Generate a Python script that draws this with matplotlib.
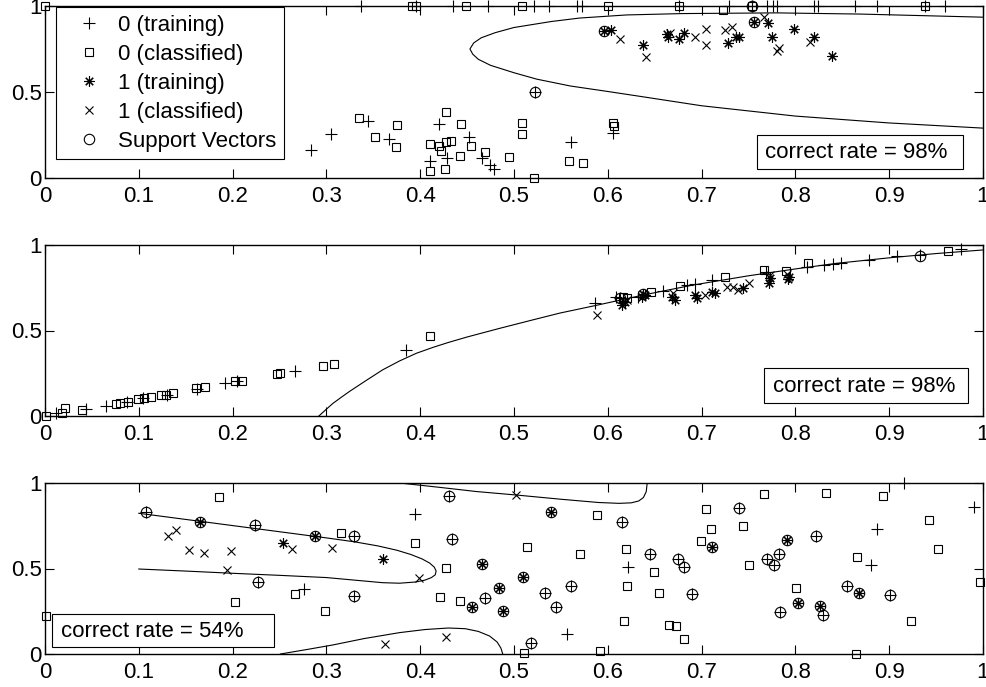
import matplotlib
matplotlib.use("Agg")
import matplotlib.pyplot as plt
from matplotlib.patches import Rectangle
from matplotlib.lines import Line2D

plt.rcParams['font.family'] = ['Liberation Sans', 'DejaVu Sans']

# ---------------- Panel 1 data ----------------
p1_train0_x = [0.337, 0.395, 0.435, 0.472, 0.521, 0.537, 0.567, 0.572, 0.676, 0.729, 0.754, 0.770, 0.776, 0.780,
               0.820, 0.824, 0.864, 0.887, 0.938, 0.960,
               0.284, 0.305, 0.344, 0.367, 0.420, 0.410, 0.429, 0.452, 0.466, 0.474, 0.479, 0.561, 0.606, 0.522]
p1_train0_y = [1.0] * 20 + [0.163, 0.254, 0.331, 0.227, 0.314, 0.099, 0.114, 0.237, 0.114, 0.076, 0.050, 0.207,
                            0.263, 0.502]
p1_class0_x = [0.0, 0.391, 0.396, 0.449, 0.508, 0.600, 0.676, 0.754, 0.938, 0.723,
               0.335, 0.352, 0.375, 0.374, 0.427, 0.443, 0.410, 0.420, 0.422, 0.428, 0.433, 0.454, 0.442, 0.469,
               0.495, 0.410, 0.426, 0.521, 0.509, 0.508, 0.559, 0.574, 0.606, 0.607]
p1_class0_y = [1.0] * 9 + [0.977,
                           0.351, 0.237, 0.308, 0.178, 0.386, 0.314, 0.196, 0.186, 0.157, 0.207, 0.217, 0.186, 0.126,
                           0.153, 0.120, 0.041, 0.052, 0.002, 0.322, 0.256, 0.101, 0.085, 0.322, 0.302]
p1_train1_x = [0.596, 0.603, 0.638, 0.663, 0.664, 0.676, 0.681, 0.728, 0.737, 0.740, 0.756, 0.771, 0.775, 0.798,
               0.820, 0.839]
p1_train1_y = [0.855, 0.860, 0.773, 0.835, 0.822, 0.808, 0.841, 0.783, 0.818, 0.822, 0.907, 0.903, 0.818, 0.864,
               0.818, 0.711]
p1_class1_x = [0.613, 0.641, 0.666, 0.693, 0.705, 0.705, 0.725, 0.732, 0.766, 0.780, 0.783, 0.816]
p1_class1_y = [0.808, 0.702, 0.841, 0.822, 0.868, 0.773, 0.860, 0.880, 0.934, 0.740, 0.754, 0.789]
p1_sv_x = [0.522, 0.596, 0.754, 0.756]
p1_sv_y = [0.502, 0.855, 1.0, 0.907]
p1_bound_x = [1.0, 0.87, 0.78, 0.68, 0.62, 0.57, 0.54, 0.50, 0.48, 0.465, 0.457, 0.453, 0.456, 0.462, 0.475,
              0.50, 0.524, 0.56, 0.60, 0.634, 0.70, 0.80, 0.90, 1.0]
p1_bound_y = [0.935, 0.953, 0.960, 0.956, 0.948, 0.930, 0.910, 0.875, 0.845, 0.815, 0.785, 0.750, 0.72, 0.69,
              0.655, 0.612, 0.575, 0.535, 0.503, 0.475, 0.42, 0.36, 0.32, 0.29]

# ---------------- Panel 2 data ----------------
p2_train0_x = [0.012, 0.044, 0.065, 0.087, 0.104, 0.130, 0.162, 0.192, 0.205, 0.267, 0.385, 0.586, 0.609, 0.613,
               0.632, 0.659, 0.684, 0.693, 0.711, 0.769, 0.812, 0.830, 0.840, 0.849, 0.878, 0.908, 0.933, 0.977]
p2_train0_y = [0.016, 0.041, 0.060, 0.084, 0.103, 0.124, 0.156, 0.191, 0.205, 0.265, 0.386, 0.659, 0.698, 0.692,
               0.698, 0.733, 0.766, 0.770, 0.795, 0.844, 0.873, 0.885, 0.889, 0.895, 0.914, 0.934, 0.940, 0.978]
p2_class0_x = [0.001, 0.018, 0.021, 0.039, 0.076, 0.080, 0.088, 0.099, 0.106, 0.113, 0.124, 0.129, 0.136, 0.161,
               0.171, 0.203, 0.210, 0.247, 0.251, 0.296, 0.308, 0.410, 0.616, 0.620, 0.646, 0.677, 0.725, 0.766,
               0.790, 0.813, 0.963]
p2_class0_y = [0.0, 0.016, 0.045, 0.035, 0.070, 0.074, 0.084, 0.098, 0.103, 0.109, 0.123, 0.125, 0.133, 0.162,
               0.171, 0.205, 0.206, 0.246, 0.250, 0.294, 0.304, 0.468, 0.694, 0.688, 0.727, 0.760, 0.811, 0.854,
               0.848, 0.897, 0.967]
p2_train1_x = [0.615, 0.618, 0.636, 0.638, 0.640, 0.668, 0.672, 0.693, 0.695, 0.711, 0.714, 0.744, 0.772, 0.773,
               0.792, 0.793]
p2_train1_y = [0.649, 0.665, 0.698, 0.715, 0.708, 0.698, 0.678, 0.708, 0.688, 0.727, 0.722, 0.747, 0.776, 0.805,
               0.799, 0.815]
p2_class1_x = [0.589, 0.620, 0.670, 0.704, 0.727, 0.733, 0.739, 0.750, 0.773, 0.791]
p2_class1_y = [0.591, 0.678, 0.717, 0.708, 0.753, 0.756, 0.737, 0.776, 0.825, 0.830]
p2_sv_x = [0.613, 0.638, 0.933]
p2_sv_y = [0.692, 0.715, 0.938]
p2_bound_x = [0.292, 0.296, 0.300, 0.307, 0.316, 0.325, 0.343, 0.36, 0.378, 0.396, 0.414, 0.43, 0.45, 0.485,
              0.52, 0.549, 0.586, 0.64, 0.691, 0.75, 0.80, 0.844, 0.90, 0.95, 1.0]
p2_bound_y = [0.0, 0.02, 0.04, 0.074, 0.11, 0.145, 0.21, 0.27, 0.322, 0.367, 0.402, 0.43, 0.462, 0.513,
              0.562, 0.602, 0.645, 0.71, 0.766, 0.82, 0.86, 0.893, 0.925, 0.95, 0.971]

# ---------------- Panel 3 data ----------------
p3_sv_plus_x = [0.108, 0.224, 0.329, 0.227, 0.329, 0.431, 0.434, 0.469, 0.533, 0.545, 0.561, 0.518, 0.615, 0.645,
                0.675, 0.681, 0.690, 0.740, 0.770, 0.777, 0.782, 0.784, 0.822, 0.829, 0.855, 0.901]
p3_sv_plus_y = [0.832, 0.754, 0.692, 0.423, 0.339, 0.924, 0.672, 0.329, 0.355, 0.277, 0.400, 0.062, 0.770, 0.585,
                0.554, 0.507, 0.353, 0.856, 0.556, 0.519, 0.585, 0.244, 0.690, 0.228, 0.398, 0.345]
p3_plus_x = [0.276, 0.394, 0.557, 0.622, 0.881, 0.887, 0.916, 0.990]
p3_plus_y = [0.380, 0.819, 0.117, 0.511, 0.520, 0.729, 1.0, 0.858]
p3_sv_star_x = [0.165, 0.288, 0.455, 0.466, 0.484, 0.488, 0.510, 0.539, 0.711, 0.791, 0.803, 0.826, 0.868]
p3_sv_star_y = [0.774, 0.692, 0.277, 0.526, 0.384, 0.251, 0.448, 0.828, 0.628, 0.667, 0.296, 0.281, 0.359]
p3_star_x = [0.254, 0.360]
p3_star_y = [0.647, 0.554]
p3_class0_x = [0.001, 0.185, 0.203, 0.267, 0.299, 0.316, 0.394, 0.428, 0.421, 0.442, 0.514, 0.511, 0.570, 0.588,
               0.592, 0.619, 0.620, 0.617, 0.649, 0.655, 0.665, 0.673, 0.681, 0.699, 0.710, 0.705, 0.744, 0.767,
               0.750, 0.801, 0.833, 0.866, 0.865, 0.893, 0.923, 0.942, 0.952, 0.997]
p3_class0_y = [0.224, 0.920, 0.302, 0.349, 0.253, 0.706, 0.647, 0.501, 0.335, 0.310, 0.624, 0.008, 0.585, 0.811,
               0.019, 0.614, 0.398, 0.195, 0.478, 0.355, 0.171, 0.164, 0.088, 0.661, 0.731, 0.848, 0.749, 0.936,
               0.522, 0.386, 0.943, 0.565, 0.0, 0.924, 0.193, 0.784, 0.612, 0.419]
p3_class1_x = [0.131, 0.140, 0.154, 0.169, 0.198, 0.194, 0.263, 0.306, 0.399, 0.362, 0.427, 0.502]
p3_class1_y = [0.690, 0.725, 0.608, 0.592, 0.602, 0.491, 0.614, 0.618, 0.443, 0.058, 0.101, 0.930]
p3_boundA_x = [0.1, 0.15, 0.2, 0.25, 0.3, 0.33, 0.355, 0.375, 0.39, 0.402, 0.41, 0.415, 0.417, 0.416, 0.412,
               0.405, 0.395, 0.378, 0.36, 0.33, 0.3, 0.25, 0.2, 0.15, 0.1]
p3_boundA_y = [0.823, 0.787, 0.751, 0.715, 0.679, 0.656, 0.632, 0.607, 0.582, 0.556, 0.532, 0.508, 0.485, 0.463,
               0.447, 0.432, 0.421, 0.414, 0.417, 0.432, 0.447, 0.460, 0.472, 0.485, 0.497]
p3_boundB_x = [0.378, 0.42, 0.46, 0.502, 0.55, 0.59, 0.612, 0.625, 0.633, 0.638, 0.641, 0.642]
p3_boundB_y = [1.0, 0.975, 0.95, 0.93, 0.905, 0.886, 0.881, 0.884, 0.895, 0.915, 0.95, 1.0]
p3_boundC_x = [0.251, 0.28, 0.307, 0.34, 0.378, 0.405, 0.43, 0.448, 0.462, 0.474, 0.482, 0.486, 0.488]
p3_boundC_y = [0.0, 0.027, 0.053, 0.09, 0.125, 0.143, 0.152, 0.148, 0.132, 0.105, 0.07, 0.035, 0.0]

xticks = [0, 0.1, 0.2, 0.3, 0.4, 0.5, 0.6, 0.7, 0.8, 0.9, 1]
xtick_labels = ['0', '0.1', '0.2', '0.3', '0.4', '0.5', '0.6', '0.7', '0.8', '0.9', '1']
yticks = [0, 0.5, 1]
ytick_labels = ['0', '0.5', '1']
legend_labels = ['0 (training)', '0 (classified)', '1 (training)', '1 (classified)', 'Support Vectors']
rate_texts = ['correct rate = 98%', 'correct rate = 98%', 'correct rate = 54%']

FS = 16
STAR = (8, 2, 0)
sty = dict(color='black', linestyle='none', clip_on=False, markeredgewidth=0.8)
m_plus = dict(marker='+', markersize=8, **sty)
m_sq = dict(marker='s', markersize=6, markerfacecolor='none', **sty)
m_star = dict(marker=STAR, markersize=7.5, **sty)
m_x = dict(marker='x', markersize=5.5, **sty)
m_o = dict(marker='o', markersize=7.5, markerfacecolor='none', **sty)

fig = plt.figure(figsize=(9.87, 6.87), dpi=100)
left, width = 45 / 987, (983 - 45) / 987
rects = [(left, 1 - 178 / 687, width, 172 / 687),
         (left, 1 - 416 / 687, width, 171 / 687),
         (left, 1 - 654 / 687, width, 171 / 687)]
axes = [fig.add_axes(r) for r in rects]

def style(ax):
    ax.set_xlim(0, 1)
    ax.set_ylim(0, 1)
    ax.set_xticks(xticks)
    ax.set_xticklabels(xtick_labels)
    ax.set_yticks(yticks)
    ax.set_yticklabels(ytick_labels)
    ax.tick_params(direction='in', top=True, right=True, length=6.5, width=0.8, labelsize=FS)
    ax.tick_params(axis='x', pad=5.5)
    ax.tick_params(axis='y', pad=2.5)
    for s in ax.spines.values():
        s.set_linewidth(1.0)

def ratebox(ax, x0, y0, x1, y1, tx, ty, text):
    ax.add_patch(Rectangle((x0, y0), x1 - x0, y1 - y0, transform=ax.transAxes, facecolor='white',
                           edgecolor='black', linewidth=0.8, zorder=5))
    ax.text(tx, ty, text, transform=ax.transAxes, fontsize=FS, va='center', ha='left', zorder=6)

# Panel 1
ax = axes[0]
ax.plot(p1_bound_x, p1_bound_y, color='black', linewidth=0.8)
ax.plot(p1_train0_x, p1_train0_y, **m_plus)
ax.plot(p1_class0_x, p1_class0_y, **m_sq)
ax.plot(p1_train1_x, p1_train1_y, **m_star)
ax.plot(p1_class1_x, p1_class1_y, **m_x)
ax.plot(p1_sv_x, p1_sv_y, **m_o)
style(ax)
handles = [Line2D([], [], **m_plus), Line2D([], [], **m_sq), Line2D([], [], **m_star),
           Line2D([], [], **m_x), Line2D([], [], **m_o)]
leg = ax.legend(handles, legend_labels, loc='upper left', bbox_to_anchor=(0.0117, 0.994), borderaxespad=0,
                fontsize=FS, frameon=True, fancybox=False, edgecolor='black', framealpha=1,
                borderpad=0.34, handlelength=2.29, handletextpad=0.16, labelspacing=0.36)
leg.get_frame().set_linewidth(0.8)
leg.set_zorder(10)
ratebox(ax, 0.759, 0.05, 0.979, 0.25, 0.768, 0.151, rate_texts[0])

# Panel 2
ax = axes[1]
ax.plot(p2_bound_x, p2_bound_y, color='black', linewidth=0.8)
ax.plot(p2_train0_x, p2_train0_y, **m_plus)
ax.plot(p2_class0_x, p2_class0_y, **m_sq)
ax.plot(p2_train1_x, p2_train1_y, **m_star)
ax.plot(p2_class1_x, p2_class1_y, **m_x)
ax.plot(p2_sv_x, p2_sv_y, **m_o)
style(ax)
ratebox(ax, 0.767, 0.078, 0.984, 0.279, 0.776, 0.175, rate_texts[1])

# Panel 3
ax = axes[2]
for bx, by in [(p3_boundA_x, p3_boundA_y), (p3_boundB_x, p3_boundB_y), (p3_boundC_x, p3_boundC_y)]:
    ax.plot(bx, by, color='black', linewidth=0.8)
ax.plot(p3_sv_plus_x + p3_plus_x, p3_sv_plus_y + p3_plus_y, **m_plus)
ax.plot(p3_class0_x, p3_class0_y, **m_sq)
ax.plot(p3_sv_star_x + p3_star_x, p3_sv_star_y + p3_star_y, **m_star)
ax.plot(p3_class1_x, p3_class1_y, **m_x)
ax.plot(p3_sv_plus_x + p3_sv_star_x, p3_sv_plus_y + p3_sv_star_y, **m_o)
style(ax)
ratebox(ax, 0.0078, 0.039, 0.2445, 0.234, 0.017, 0.130, rate_texts[2])

fig.savefig('out.png', dpi=100)
